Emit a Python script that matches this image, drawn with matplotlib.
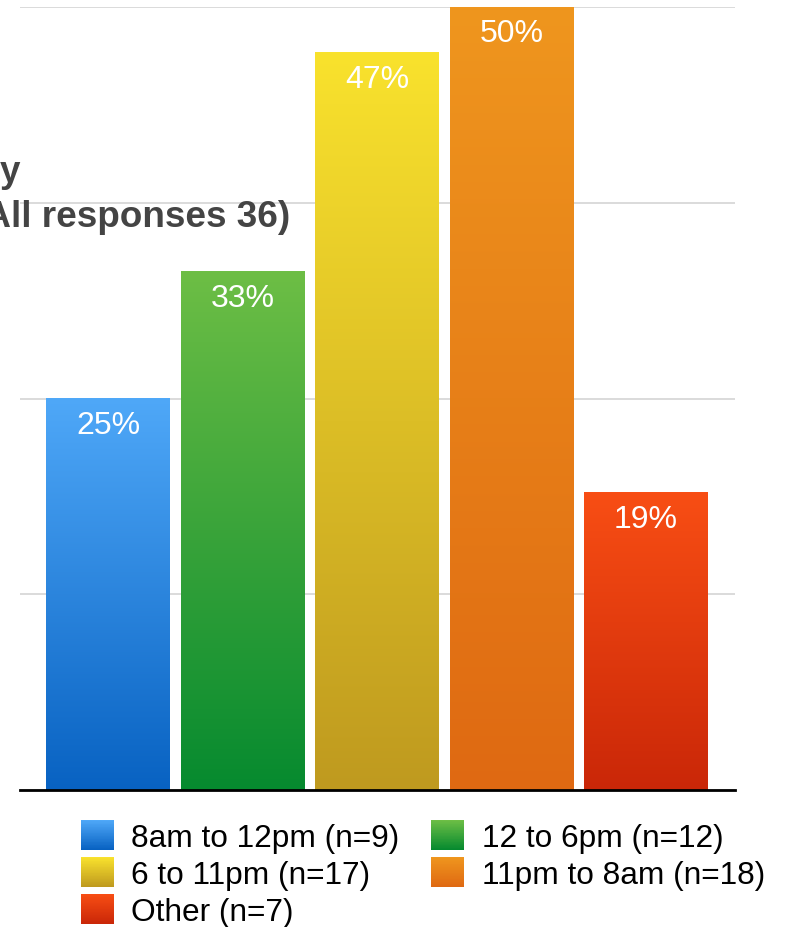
import numpy as np
import matplotlib
matplotlib.use("Agg")
import matplotlib.pyplot as plt
from matplotlib.patches import Rectangle
from matplotlib.legend_handler import HandlerBase
from matplotlib.colors import to_rgb

plt.rcParams['font.family'] = ['Liberation Sans', 'DejaVu Sans']

# ---- data ----
categories = ["8am to 12pm (n=9)", "12 to 6pm (n=12)", "6 to 11pm (n=17)",
              "11pm to 8am (n=18)", "Other (n=7)"]
values = [25, 33.1, 47.1, 50, 19]
value_labels = ["25%", "33%", "47%", "50%", "19%"]
top_colors = ["#4FA8F8", "#6DBE45", "#F9E22D", "#EF961E", "#F84E14"]
bottom_colors = ["#0862C2", "#068A2F", "#BF9A1F", "#DF6912", "#CA2708"]
title_line1 = "y"
title_line2 = "(All responses 36)"

W, H = 797, 928
fig = plt.figure(figsize=(W / 100, H / 100), dpi=100)

# axes placement in pixels
ax_l, ax_r, ax_b, ax_t = 20, 735, 791, 8
ax = fig.add_axes([ax_l / W, 1 - ax_b / H, (ax_r - ax_l) / W, (ax_b - ax_t) / H])

x = np.arange(len(categories))
bars = ax.bar(x, values, width=0.92, color=top_colors, zorder=2)

def gradient(c_top, c_bot, n=256):
    t = np.linspace(0, 1, n)[:, None]
    a = np.array(to_rgb(c_top))
    b = np.array(to_rgb(c_bot))
    return (a * (1 - t) + b * t)[:, None, :]

for bar, ct, cb in zip(bars, top_colors, bottom_colors):
    x0, w, h = bar.get_x(), bar.get_width(), bar.get_height()
    ax.imshow(gradient(ct, cb), extent=[x0, x0 + w, 0, h], aspect='auto',
              origin='upper', interpolation='bilinear', zorder=3)

for bar, lab in zip(bars, value_labels):
    ax.annotate(lab, (bar.get_x() + bar.get_width() / 2, bar.get_height()),
                xytext=(0, -19), textcoords='offset points', ha='center', va='center',
                color='white', fontsize=23, zorder=5)

px_per_unit = 134.5
ax.set_xlim(-88 / px_per_unit, (ax_r - ax_l - 88) / px_per_unit)
ax.set_ylim(0, 50)
ax.set_yticks([0, 12.5, 25, 37.5, 50])
ax.yaxis.grid(True, color='#d4d4d4', linewidth=1.2, zorder=0)
ax.set_axisbelow(True)
ax.tick_params(left=False, bottom=False, labelleft=False, labelbottom=False)
for s in ['top', 'left', 'right']:
    ax.spines[s].set_visible(False)
ax.spines['bottom'].set_color('black')
ax.spines['bottom'].set_linewidth(2)
ax.spines['bottom'].set_zorder(6)

# ---- title (cropped at left edge, as in the reference) ----
fig.text(20 / W, 1 - 182 / H, title_line1, ha='right', va='baseline',
         fontsize=26.6, fontweight='bold', color='#444444')
fig.text(290 / W, 1 - 227 / H, title_line2, ha='right', va='baseline',
         fontsize=26.6, fontweight='bold', color='#444444')

# ---- legend with gradient swatches ----
class GradHandler(HandlerBase):
    def __init__(self, ct, cb, n=40):
        super().__init__()
        self.ct, self.cb = ct, cb
        self.n = n

    def create_artists(self, legend, orig_handle, xdescent, ydescent, width, height,
                       fontsize, trans):
        arts = []
        a = np.array(to_rgb(self.ct))
        b = np.array(to_rgb(self.cb))
        for i in range(self.n):
            t = i / (self.n - 1)
            c = a * (1 - t) + b * t
            y = -ydescent + height * (1 - (i + 1) / self.n)
            r = Rectangle((-xdescent, y), width, height / self.n * 1.05,
                          facecolor=c, edgecolor='none', transform=trans)
            arts.append(r)
        return arts

handles = [Rectangle((0, 0), 1, 1) for _ in categories]
hmap = {h: GradHandler(ct, cb) for h, ct, cb in zip(handles, top_colors, bottom_colors)}
order = [0, 2, 4, 1, 3]
fig.legend([handles[i] for i in order], [categories[i] for i in order],
           handler_map=hmap, ncol=2, loc='upper left',
           bbox_to_anchor=(81 / W, 1 - 821 / H), frameon=False,
           fontsize=22.8, handlelength=1.04, handleheight=1.08,
           handletextpad=0.55, columnspacing=1.0, labelspacing=0.13,
           borderpad=0, borderaxespad=0)

fig.savefig("out.png", dpi=100)
